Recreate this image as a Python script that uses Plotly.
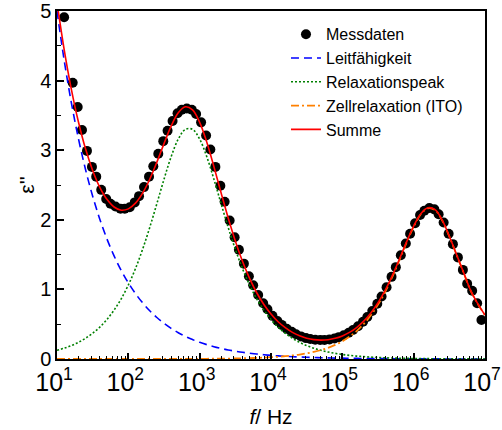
import plotly.graph_objects as go

# ---------------- data ----------------
# measured points: log10(f/Hz) and eps''
meas_log_f = [1.10, 1.22, 1.29, 1.35, 1.42, 1.49, 1.55, 1.62, 1.69, 1.75, 1.82, 1.89, 1.95,
              2.02, 2.09, 2.15, 2.22, 2.29, 2.35, 2.42, 2.49, 2.55, 2.62, 2.69, 2.75, 2.82, 2.89, 2.95,
              3.02, 3.09, 3.15, 3.22, 3.29, 3.35, 3.42, 3.49, 3.55, 3.62, 3.69, 3.75, 3.82, 3.89, 3.95,
              4.02, 4.09, 4.15, 4.22, 4.29, 4.35, 4.42, 4.49, 4.55, 4.62, 4.69, 4.75, 4.82, 4.89, 4.95,
              5.02, 5.09, 5.15, 5.22, 5.29, 5.35, 5.42, 5.49, 5.55, 5.62, 5.69, 5.75, 5.82, 5.89, 5.95,
              6.02, 6.09, 6.15, 6.22, 6.29, 6.35, 6.42, 6.49, 6.55, 6.62, 6.69, 6.75, 6.82, 6.89, 6.95]
meas_eps = [4.91, 3.97, 3.62, 3.29, 2.99, 2.76, 2.62, 2.43, 2.30, 2.23, 2.19, 2.16, 2.16,
            2.18, 2.25, 2.34, 2.47, 2.62, 2.77, 2.95, 3.13, 3.28, 3.42, 3.53, 3.58, 3.60, 3.58, 3.52,
            3.40, 3.21, 3.01, 2.76, 2.49, 2.26, 1.99, 1.75, 1.57, 1.37, 1.19, 1.06, 0.92, 0.80, 0.715,
            0.62, 0.545, 0.49, 0.435, 0.39, 0.355, 0.325, 0.30, 0.287, 0.276, 0.272, 0.274, 0.281, 0.295, 0.314,
            0.342, 0.377, 0.417, 0.470, 0.535, 0.603, 0.690, 0.793, 0.897, 1.03, 1.18, 1.32, 1.49, 1.66, 1.80,
            1.95, 2.07, 2.13, 2.17, 2.15, 2.08, 1.96, 1.80, 1.65, 1.46, 1.28, 1.08, 0.98, 0.80, 0.56]

# fit curves sampled at log10(f/Hz)
fit_log_f = [1.0, 1.1, 1.2, 1.3, 1.4, 1.5, 1.6, 1.7, 1.8, 1.9,
             2.0, 2.1, 2.2, 2.3, 2.4, 2.5, 2.6, 2.7, 2.8, 2.9,
             3.0, 3.1, 3.2, 3.3, 3.4, 3.5, 3.6, 3.7, 3.8, 3.9,
             4.0, 4.1, 4.2, 4.3, 4.4, 4.5, 4.6, 4.7, 4.8, 4.9,
             5.0, 5.1, 5.2, 5.3, 5.4, 5.5, 5.6, 5.7, 5.8, 5.9,
             6.0, 6.1, 6.2, 6.3, 6.4, 6.5, 6.6, 6.7, 6.8, 6.9, 7.0]
leitfaehigkeit = [5.000, 4.295, 3.689, 3.169, 2.722, 2.339, 2.009, 1.726, 1.482, 1.273,
                  1.094, 0.940, 0.807, 0.693, 0.596, 0.512, 0.440, 0.378, 0.324, 0.279,
                  0.239, 0.206, 0.177, 0.152, 0.130, 0.112, 0.096, 0.083, 0.071, 0.061,
                  0.052, 0.045, 0.039, 0.033, 0.029, 0.025, 0.021, 0.018, 0.016, 0.013,
                  0.012, 0.010, 0.009, 0.007, 0.006, 0.005, 0.005, 0.004, 0.003, 0.003,
                  0.003, 0.002, 0.002, 0.002, 0.001, 0.001, 0.001, 0.001, 0.001, 0.001, 0.001]
relaxationspeak = [0.125, 0.155, 0.193, 0.240, 0.298, 0.370, 0.458, 0.568, 0.702, 0.865,
                   1.063, 1.299, 1.576, 1.890, 2.232, 2.582, 2.906, 3.159, 3.300, 3.300,
                   3.159, 2.906, 2.582, 2.232, 1.890, 1.576, 1.299, 1.063, 0.865, 0.702,
                   0.568, 0.458, 0.370, 0.298, 0.240, 0.193, 0.155, 0.125, 0.100, 0.081,
                   0.065, 0.052, 0.042, 0.034, 0.027, 0.022, 0.017, 0.014, 0.011, 0.009,
                   0.007, 0.006, 0.005, 0.004, 0.003, 0.002, 0.002, 0.002, 0.001, 0.001, 0.001]
zellrelaxation = [0.0, 0.0, 0.0, 0.0, 0.0, 0.0, 0.0, 0.0, 0.0, 0.0,
                  0.0, 0.0, 0.0, 0.0, 0.0, 0.001, 0.001, 0.001, 0.001, 0.002,
                  0.003, 0.003, 0.004, 0.005, 0.006, 0.008, 0.010, 0.013, 0.016, 0.020,
                  0.026, 0.032, 0.041, 0.051, 0.064, 0.081, 0.102, 0.128, 0.161, 0.203,
                  0.255, 0.320, 0.401, 0.503, 0.628, 0.781, 0.964, 1.180, 1.420, 1.670,
                  1.900, 2.080, 2.166, 2.140, 1.990, 1.760, 1.500, 1.240, 0.980, 0.790, 0.630]
summe = [5.125, 4.450, 3.882, 3.409, 3.020, 2.709, 2.467, 2.294, 2.184, 2.138,
         2.157, 2.239, 2.383, 2.583, 2.828, 3.094, 3.346, 3.537, 3.624, 3.579,
         3.401, 3.115, 2.763, 2.389, 2.026, 1.696, 1.405, 1.159, 0.952, 0.783,
         0.646, 0.535, 0.450, 0.382, 0.333, 0.299, 0.278, 0.271, 0.277, 0.297,
         0.332, 0.382, 0.452, 0.544, 0.661, 0.808, 0.986, 1.198, 1.434, 1.682,
         1.910, 2.088, 2.173, 2.146, 1.994, 1.763, 1.503, 1.243, 0.982, 0.792, 0.631]

x_tick_exp = [1, 2, 3, 4, 5, 6, 7]
y_ticks = [0, 1, 2, 3, 4, 5]

assert len(meas_log_f) == len(meas_eps)
for s in (leitfaehigkeit, relaxationspeak, zellrelaxation, summe):
    assert len(s) == len(fit_log_f)

meas_f = [10 ** e for e in meas_log_f]
fit_f = [10 ** e for e in fit_log_f]

FONT = "Liberation Sans"

fig = go.Figure()
fig.add_trace(go.Scatter(x=meas_f, y=meas_eps, mode="markers", name="Messdaten",
                         marker=dict(color="black", size=10, line=dict(width=0))))
fig.add_trace(go.Scatter(x=fit_f, y=leitfaehigkeit, mode="lines", name="Leitfähigkeit",
                         line=dict(color="#0000ff", width=1.6, dash="8px,5px", shape="spline")))
fig.add_trace(go.Scatter(x=fit_f, y=relaxationspeak, mode="lines", name="Relaxationspeak",
                         line=dict(color="#008000", width=1.6, dash="2px,2px", shape="spline")))
fig.add_trace(go.Scatter(x=fit_f, y=zellrelaxation, mode="lines", name="Zellrelaxation (ITO)",
                         line=dict(color="#ff8000", width=1.8, dash="8px,3px,2px,3px", shape="spline")))
fig.add_trace(go.Scatter(x=fit_f, y=summe, mode="lines", name="Summe",
                         line=dict(color="#ff0000", width=1.6, shape="spline")))

minor_vals = [m * 10 ** e for e in x_tick_exp[:-1] for m in range(2, 10)]

fig.update_layout(
    width=502, height=430,
    margin=dict(l=57, r=17, t=11, b=71, autoexpand=False),
    paper_bgcolor="white", plot_bgcolor="white",
    font=dict(family=FONT, color="black"),
    showlegend=True,
    legend=dict(x=0.535, y=0.982, xanchor="left", yanchor="top",
                font=dict(size=16, family=FONT), bgcolor="rgba(0,0,0,0)",
                itemwidth=30, tracegroupgap=0),
)
fig.update_xaxes(
    type="log", range=[1, 7], automargin=False,
    tickmode="array", tickvals=[10 ** e for e in x_tick_exp],
    ticktext=["10<sup>%d</sup>" % e for e in x_tick_exp],
    ticklabeloverflow="allow", ticklabelshift=-3,
    ticks="inside", ticklen=6, tickwidth=1.5, tickcolor="black",
    minor=dict(tickmode="array", tickvals=minor_vals, ticks="inside", ticklen=3,
               tickwidth=1.2, tickcolor="black", showgrid=False),
    showline=True, linecolor="black", linewidth=1.5, mirror=True,
    showgrid=False, zeroline=False,
    tickfont=dict(size=25, family=FONT),
    title=dict(text="<i>f</i>/ Hz", font=dict(size=21, family=FONT), standoff=15),
)
fig.update_yaxes(
    range=[0, 5], automargin=False, tickmode="array", tickvals=y_ticks,
    ticks="inside", ticklen=7, tickwidth=1.5, tickcolor="black",
    minor=dict(dtick=0.5, ticks="inside", ticklen=4, tickwidth=1.2,
               tickcolor="black", showgrid=False),
    showline=True, linecolor="black", linewidth=1.5, mirror=True,
    showgrid=False, zeroline=False,
    tickfont=dict(size=20, family=FONT),
    title=dict(text="ε''", font=dict(size=21, family=FONT), standoff=0),
)

fig.write_html("out.html")
